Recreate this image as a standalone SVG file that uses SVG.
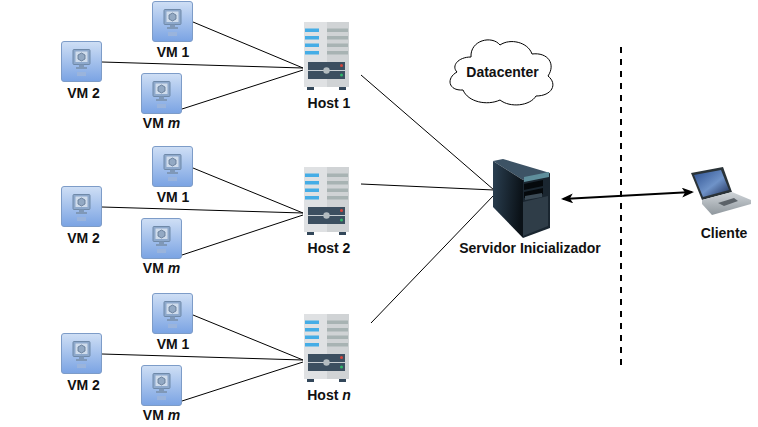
<svg xmlns="http://www.w3.org/2000/svg" width="758" height="427" viewBox="0 0 758 427">
<style>
text{font-family:"Liberation Sans",Arial,sans-serif;font-size:14px;font-weight:700;fill:#111;text-anchor:middle}
.l{stroke:#000;stroke-width:1;fill:none}
</style>
<defs>
<linearGradient id="vb" x1="0" y1="0" x2="0" y2="1"><stop offset="0" stop-color="#cfdff5"/><stop offset="1" stop-color="#7aa3e3"/></linearGradient>
<linearGradient id="lf" x1="0" y1="0" x2="1" y2="0.2"><stop offset="0" stop-color="#2b4052"/><stop offset="1" stop-color="#0b1218"/></linearGradient>
<linearGradient id="scr" x1="0" y1="0" x2="1" y2="1"><stop offset="0" stop-color="#2c4f8f"/><stop offset="0.55" stop-color="#6f93c8"/><stop offset="1" stop-color="#1c2c55"/></linearGradient>
<linearGradient id="bs" x1="0" y1="0" x2="0" y2="1"><stop offset="0" stop-color="#cfd4d8"/><stop offset="1" stop-color="#8f979d"/></linearGradient>
<marker id="ah" viewBox="0 0 12 10" refX="10" refY="5" markerWidth="12" markerHeight="10" markerUnits="userSpaceOnUse" orient="auto-start-reverse"><path d="M0 0L12 5L0 10L3 5Z" fill="#000"/></marker>
<g id="vm">
<rect x="0.5" y="0.5" width="40" height="40" rx="2.5" fill="url(#vb)" stroke="#7d9cc8"/>
<rect x="12" y="8.500" width="17" height="15" rx="1" fill="#8ea9cc" stroke="#6f89a8"/>
<rect x="14.500" y="10.500" width="12" height="10.500" fill="#cfdcec"/>
<path d="M20.500 12L24 14V18L20.500 20L17 18V14Z" fill="#93a9c3" stroke="#5d7390" stroke-width="0.8"/>
<path d="M18 23.500H23V26H26V28H15V26H18Z" fill="#7f98b8"/>
<rect x="16" y="31" width="9" height="4" fill="#9ab4dc"/>
</g>
<g id="host">
<rect x="0" y="0" width="45" height="65" fill="#dfe1e3"/>
<rect x="23" y="0" width="22" height="65" fill="#d0d3d5"/>
<g fill="#a8b3b3"><rect x="23" y="6.500" width="21" height="3.500"/><rect x="23" y="14" width="21" height="3.500"/><rect x="23" y="21.500" width="21" height="3.500"/><rect x="23" y="29" width="21" height="3.500"/></g>
<g fill="#45ade6"><rect x="1" y="6.500" width="14" height="3.500"/><rect x="1" y="14" width="14" height="3.500"/><rect x="1" y="21.500" width="14" height="3.500"/><rect x="1" y="29" width="14" height="3.500"/></g>
<rect x="4" y="40" width="37" height="17" fill="#3c4f60"/>
<rect x="4" y="48" width="37" height="1" fill="#c9cfd3"/>
<circle cx="22.500" cy="48.500" r="3.200" fill="#b3bcc0"/>
<circle cx="37.500" cy="43.500" r="1.500" fill="#d8453c"/>
<circle cx="37.500" cy="53" r="1.500" fill="#2fb86a"/>
<rect x="3" y="65" width="7" height="3" fill="#33475a"/><rect x="35" y="65" width="7" height="3" fill="#33475a"/>
</g>
</defs>
<g id="connectors">
<path class="l" d="M193 22L303 68M102 62L303 68M182 109L303 70"/>
<path class="l" d="M193 168L303 213M102 207L303 213M182 255L303 215"/>
<path class="l" d="M193 315L303 360M102 354L303 360M182 401L303 362"/>
<path class="l" d="M361 75L494 190M361 184L494 190M371 323L494 195"/>
<path d="M563 199L692 192" stroke="#000" stroke-width="2" fill="none" marker-start="url(#ah)" marker-end="url(#ah)"/>
<path d="M621 47V365" stroke="#000" stroke-width="2" stroke-dasharray="6 6" fill="none"/>
</g>
<g id="vm1-1"><use href="#vm" x="152" y="1"/><text x="173" y="57">VM 1</text></g>
<g id="vm1-2"><use href="#vm" x="61" y="41"/><text x="83.500" y="98">VM 2</text></g>
<g id="vm1-m"><use href="#vm" x="141" y="73"/><text x="161.500" y="128">VM <tspan font-style="italic">m</tspan></text></g>
<g id="host1"><use href="#host" x="304" y="22"/><text x="329" y="108">Host 1</text></g>
<g id="vm2-1"><use href="#vm" x="152" y="146"/><text x="173" y="202">VM 1</text></g>
<g id="vm2-2"><use href="#vm" x="61" y="186"/><text x="83.500" y="243">VM 2</text></g>
<g id="vm2-m"><use href="#vm" x="141" y="218"/><text x="161.500" y="273">VM <tspan font-style="italic">m</tspan></text></g>
<g id="host2"><use href="#host" x="304" y="167"/><text x="329" y="253">Host 2</text></g>
<g id="vm3-1"><use href="#vm" x="152" y="293"/><text x="173" y="349">VM 1</text></g>
<g id="vm3-2"><use href="#vm" x="61" y="333"/><text x="83.500" y="390">VM 2</text></g>
<g id="vm3-m"><use href="#vm" x="141" y="365"/><text x="161.500" y="420">VM <tspan font-style="italic">m</tspan></text></g>
<g id="hostn"><use href="#host" x="304" y="314"/><text x="329" y="400">Host <tspan font-style="italic">n</tspan></text></g>
<g id="datacenter">
<path d="M471 57C458 57 451 66 457 72C446 78 448 91 463 90C468 102 487 106 500 100C510 108 530 106 536 96C552 96 558 84 548 76C556 64 548 52 532 54C528 42 510 38 500 45C492 35 470 40 471 57Z" fill="#fff" stroke="#000"/>
<text x="502.500" y="77">Datacenter</text>
</g>
<g id="servidor">
<path d="M493 161L503 159L550 173L523 180Z" fill="#3d5365"/>
<path d="M493 161L523 180V238L493 207Z" fill="url(#lf)"/>
<path d="M523 180L550 173V228L523 238Z" fill="#1a2630"/>
<path d="M524 177L549 172V177L524 182Z" fill="#5f8f9c"/>
<path d="M524 184L543 180V186L524 190ZM524 192L543 188V194L524 198Z" fill="#05090c"/>
<path d="M525 196L542 193V197L525 200Z" fill="#3c4b56"/>
<path d="M523 202L548 196V226L523 236Z" fill="#2f3d48"/>
<text x="530" y="253">Servidor Inicializador</text>
</g>
<g id="cliente">
<path d="M691 173L723 167L732 192L702 200Z" fill="#2a3338"/>
<path d="M694 175L721 170L729 190L703 197Z" fill="url(#scr)"/>
<path d="M702 200L732 192L751 200V204L712 215L702 204Z" fill="url(#bs)"/>
<path d="M718 203L734 198L738 201L724 206Z" fill="#5b6268"/>
<text x="724" y="238">Cliente</text>
</g>
</svg>
